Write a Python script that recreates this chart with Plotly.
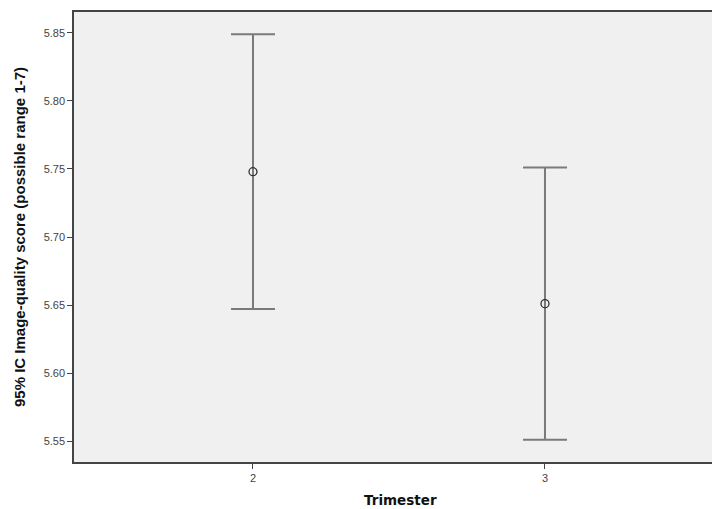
import plotly.graph_objects as go

trimester = [2, 3]
mean_score = [5.748, 5.651]
ci_upper = [5.849, 5.751]
ci_lower = [5.647, 5.551]
y_ticks = [5.55, 5.60, 5.65, 5.70, 5.75, 5.80, 5.85]
x_ticks = [2, 3]

err_plus = [u - m for u, m in zip(ci_upper, mean_score)]
err_minus = [m - l for m, l in zip(mean_score, ci_lower)]

fig = go.Figure()
fig.add_trace(go.Scatter(
    x=trimester, y=mean_score, mode="markers",
    marker=dict(symbol="circle-open", size=8, color="#333333", line=dict(width=1.3)),
    error_y=dict(type="data", symmetric=False, array=err_plus, arrayminus=err_minus,
                 color="#7a7a7a", thickness=2, width=22),
    showlegend=False, hoverinfo="skip",
))

font_family = "Liberation Sans, Arial, sans-serif"
fig.update_layout(
    width=712, height=509,
    margin=dict(l=74, r=0, t=12, b=47),
    paper_bgcolor="white", plot_bgcolor="#F0F0F0",
    font=dict(family=font_family, color="#333333"),
    xaxis=dict(
        range=[1.387, 3.572], tickvals=x_ticks, ticktext=[str(v) for v in x_ticks],
        showgrid=False, zeroline=False, showline=True, mirror=True,
        linecolor="#444444", linewidth=1.5,
        ticks="outside", ticklen=5, tickwidth=1, tickcolor="#444444",
        tickfont=dict(size=11, color="#444444"),
    ),
    yaxis=dict(
        range=[5.5346, 5.8654], tickvals=y_ticks, ticktext=[f"{v:.2f}" for v in y_ticks],
        showgrid=False, zeroline=False, showline=True, mirror=False,
        linecolor="#444444", linewidth=1.5,
        ticks="outside", ticklen=5, tickwidth=1, tickcolor="#444444",
        tickfont=dict(size=11, color="#444444"),
        title=dict(text="<b>95% IC Image-quality score (possible range 1-7)</b>",
                   font=dict(size=15, color="#111111"), standoff=14),
    ),
    annotations=[dict(
        text="<b>Trimester</b>", xref="paper", yref="paper",
        x=0.511, y=-0.0844, xanchor="center", yanchor="middle", showarrow=False,
        font=dict(family="DejaVu Sans, sans-serif", size=13.5, color="#111111"),
    )],
)

fig.write_html(
    "out.html",
    config={"displayModeBar": False},
    post_script="document.body.style.margin='0';document.body.style.overflow='hidden';",
)
